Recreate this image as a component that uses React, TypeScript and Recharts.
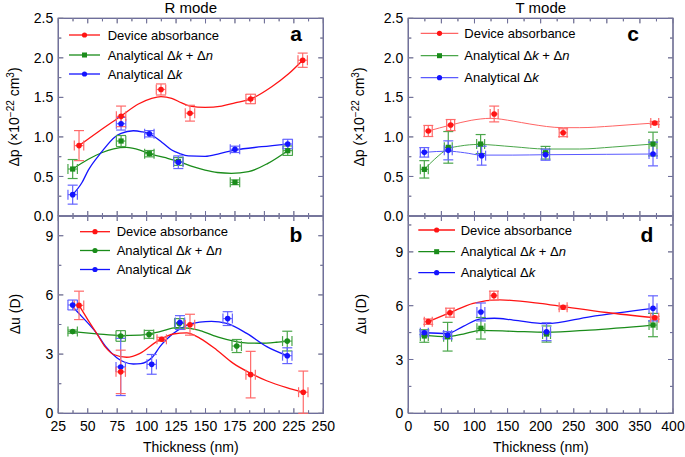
import React from 'react';
import { ComposedChart, XAxis, YAxis, Line, Scatter, ErrorBar } from 'recharts';

const FONT = '"Liberation Sans", Arial, Helvetica, sans-serif';
const RED = '#ff1414';
const GREEN = '#1a8c1a';
const BLUE = '#1414ff';
const RED_E = '#ff6a6a';
const GREEN_E = '#4aa64a';
const BLUE_E = '#6464ff';

// ---------- Panel a : R mode, Δp ----------
const aRedT = [42.6, 78.3, 112.2, 136.8, 188.3, 232.5];
const aRedV = [0.89, 1.26, 1.6, 1.3, 1.48, 1.97];
const aRedEy = [0.19, 0.13, 0.07, 0.1, 0.06, 0.09];
const aRedCt = [42.6, 59, 78.3, 93, 104.3, 112.2, 121.3, 129.8, 136.8, 149.6, 163.7, 175, 188.3, 206.2, 220.3, 232.5];
const aRedCv = [0.89, 1.066, 1.264, 1.416, 1.488, 1.51, 1.488, 1.43, 1.39, 1.374, 1.39, 1.43, 1.48, 1.635, 1.795, 1.97];

const aGreenT = [37.2, 78.3, 102.3, 126.9, 175, 219.8];
const aGreenV = [0.594, 0.948, 0.788, 0.69, 0.426, 0.826];
const aGreenEy = [0.12, 0.07, 0.04, 0.05, 0.03, 0.06];
const aGreenCt = [37.2, 50.5, 61.8, 72, 83, 95, 102.3, 115, 126.9, 140, 149.6, 160, 172, 186.5, 203, 219.8];
const aGreenCv = [0.594, 0.717, 0.8, 0.85, 0.868, 0.83, 0.79, 0.74, 0.69, 0.62, 0.58, 0.55, 0.54, 0.56, 0.666, 0.826];

const aBlueT = [37.2, 78.3, 102.3, 126.9, 175, 219.8];
const aBlueV = [0.27, 1.167, 1.04, 0.68, 0.843, 0.91];
const aBlueEy = [0.12, 0.08, 0.04, 0.08, 0.04, 0.06];
const aBlueCt = [37.2, 45, 50.5, 61.8, 73.1, 78.3, 88.7, 96, 102.3, 107, 114, 121.3, 128, 135.4, 149.6, 162, 175, 197.7, 219.8];
const aBlueCv = [0.27, 0.42, 0.58, 0.81, 1.0, 1.045, 1.078, 1.065, 1.04, 1.0, 0.92, 0.834, 0.79, 0.76, 0.755, 0.79, 0.834, 0.876, 0.91];

// ---------- Panel b : R mode, Δu ----------
const bRedT = [42.6, 78, 112.8, 136.8, 188.3, 233];
const bRedV = [5.47, 2.1, 3.75, 4.49, 1.96, 1.07];
const bRedEy = [0.72, 1.1, 0.1, 0.53, 1.18, 1.07];
const bRedCt = [42.6, 50, 57.6, 65, 72, 83, 94.4, 108.5, 122.6, 134, 145.3, 159.5, 173.6, 188.3, 201.9, 218.9, 233];
const bRedCv = [5.47, 4.75, 4.05, 3.35, 2.98, 2.84, 3.04, 3.63, 4.02, 4.08, 3.8, 3.21, 2.53, 2.03, 1.65, 1.3, 1.07];

const bGreenT = [37.2, 78, 102, 127.7, 176.5, 219.4];
const bGreenV = [4.14, 3.92, 4.0, 4.55, 3.41, 3.66];
const bGreenEy = [0.08, 0.27, 0.2, 0.25, 0.33, 0.5];
const bGreenCt = [37.2, 57.6, 78, 94.4, 111.3, 125.5, 135, 145.3, 162.3, 179.3, 196.3, 210, 219.4];
const bGreenCv = [4.14, 4.03, 3.94, 3.96, 4.14, 4.34, 4.32, 4.19, 3.83, 3.6, 3.55, 3.6, 3.66];

const bBlueT = [37.2, 78, 104.3, 128.3, 168.8, 219.4];
const bBlueV = [5.49, 2.35, 2.48, 4.6, 4.8, 2.92];
const bBlueEy = [0.25, 1.45, 0.5, 0.35, 0.35, 0.4];
const bBlueCt = [37.2, 45, 57.6, 65, 74.6, 81, 88.7, 95, 100, 105, 111.3, 117, 122.6, 134, 145, 155, 168, 185, 202, 219.4];
const bBlueCv = [5.4, 4.9, 4.05, 3.4, 2.82, 2.6, 2.5, 2.52, 2.62, 2.85, 3.38, 3.75, 4.05, 4.45, 4.62, 4.66, 4.56, 4.05, 3.38, 2.92];

// ---------- Panel c : T mode, Δp ----------
const cRedT = [30.2, 64, 129.8, 234, 372.4];
const cRedV = [1.075, 1.15, 1.29, 1.053, 1.176];
const cRedEy = [0.07, 0.07, 0.1, 0.05, 0.02];
const cRedCt = [30.2, 64, 95, 124.3, 158.5, 183.7, 234, 259, 309, 350, 372.4];
const cRedCv = [1.075, 1.15, 1.21, 1.235, 1.2, 1.163, 1.117, 1.117, 1.138, 1.163, 1.176];

const cGreenT = [24.2, 60.4, 109.3, 207.4, 369.8];
const cGreenV = [0.59, 0.868, 0.91, 0.8, 0.91];
const cGreenEy = [0.11, 0.2, 0.12, 0.08, 0.15];
const cGreenCt = [24.2, 40, 60.4, 78.5, 106, 158.5, 207.4, 259, 309, 369.8];
const cGreenCv = [0.59, 0.72, 0.85, 0.885, 0.905, 0.876, 0.847, 0.847, 0.872, 0.91];

const cBlueT = [24.2, 60.4, 110.8, 207.4, 369.8];
const cBlueV = [0.805, 0.83, 0.763, 0.775, 0.784];
const cBlueEy = [0.06, 0.12, 0.12, 0.07, 0.15];
const cBlueCt = [24.2, 60.4, 85, 110.8, 158, 207.4, 300, 369.8];
const cBlueCv = [0.805, 0.82, 0.8, 0.77, 0.77, 0.775, 0.78, 0.784];

// ---------- Panel d : T mode, Δu ----------
const dRedT = [30.2, 63, 129.4, 234, 372.4];
const dRedV = [5.11, 5.61, 6.56, 5.91, 5.33];
const dRedEy = [0.15, 0.25, 0.25, 0.1, 0.08];
const dRedCt = [30.2, 63, 98, 138.4, 198.8, 234, 299.5, 372.4];
const dRedCv = [5.11, 5.61, 6.13, 6.32, 6.13, 5.95, 5.62, 5.33];

const dGreenT = [24.2, 59.4, 109.7, 208.9, 369.8];
const dGreenV = [4.31, 4.27, 4.74, 4.42, 4.92];
const dGreenEy = [0.35, 0.8, 0.6, 0.45, 0.65];
const dGreenCt = [24.2, 59.4, 83, 109.7, 158.5, 208.9, 274, 369.8];
const dGreenCv = [4.35, 4.28, 4.42, 4.62, 4.57, 4.52, 4.64, 4.92];

const dBlueT = [24.2, 59.4, 109.7, 208.9, 369.8];
const dBlueV = [4.49, 4.36, 5.65, 4.55, 5.85];
const dBlueEy = [0.1, 0.2, 0.5, 0.5, 0.7];
const dBlueCt = [24.2, 59.4, 83, 109.7, 130, 158.5, 208.9, 274, 369.8];
const dBlueCv = [4.49, 4.45, 4.85, 5.27, 5.3, 5.2, 5.0, 5.38, 5.85];

// thickness uncertainty (nm)
const rModeEx = 4;
const tModeEx = 6;

// ticks
const rXTicks = [25, 37.5, 50, 62.5, 75, 87.5, 100, 112.5, 125, 137.5, 150, 162.5, 175, 187.5, 200, 212.5, 225, 237.5, 250];
const tXTicks = [0, 25, 50, 75, 100, 125, 150, 175, 200, 225, 250, 275, 300, 325, 350, 375, 400];
const pYTicks = [0, 0.25, 0.5, 0.75, 1, 1.25, 1.5, 1.75, 2, 2.25, 2.5];
const uYTicksB = [0, 1.5, 3, 4.5, 6, 7.5, 9];
const uYTicksD = [0, 1.5, 3, 4.5, 6, 7.5, 9, 10.5];

const legendLabels = ['Device absorbance', 'Analytical \u0394k + \u0394n', 'Analytical \u0394k'];

type Shape = 'circle' | 'square';
type Series = {
  color: string; errColor: string; lineColor: string; shape: Shape; lw: number;
  t: number[]; v: number[]; ey: number[]; ex: number; ct: number[]; cv: number[];
};

const pts = (s: Series) => s.t.map((t, i) => ({ t, v: s.v[i], ey: s.ey[i], ex: s.ex }));
const curve = (s: Series) => s.ct.map((t, i) => ({ t, v: s.cv[i] }));

const mk = (color: string, errColor: string, lineColor: string, shape: Shape, lw: number,
  t: number[], v: number[], ey: number[], ex: number, ct: number[], cv: number[]): Series =>
  ({ color, errColor, lineColor, shape, lw, t, v, ey, ex, ct, cv });

const seriesA = [
  mk(GREEN, GREEN_E, GREEN, 'square', 1.3, aGreenT, aGreenV, aGreenEy, rModeEx, aGreenCt, aGreenCv),
  mk(BLUE, BLUE_E, BLUE, 'circle', 1.3, aBlueT, aBlueV, aBlueEy, rModeEx, aBlueCt, aBlueCv),
  mk(RED, RED_E, RED, 'circle', 1.3, aRedT, aRedV, aRedEy, rModeEx, aRedCt, aRedCv),
];
const seriesB = [
  mk(GREEN, GREEN_E, GREEN, 'circle', 1.3, bGreenT, bGreenV, bGreenEy, rModeEx, bGreenCt, bGreenCv),
  mk(BLUE, BLUE_E, BLUE, 'circle', 1.3, bBlueT, bBlueV, bBlueEy, rModeEx, bBlueCt, bBlueCv),
  mk(RED, RED_E, RED, 'circle', 1.3, bRedT, bRedV, bRedEy, rModeEx, bRedCt, bRedCv),
];
const seriesC = [
  mk(GREEN, GREEN_E, '#4aa64a', 'square', 1, cGreenT, cGreenV, cGreenEy, tModeEx, cGreenCt, cGreenCv),
  mk(BLUE, BLUE_E, '#5a5aff', 'circle', 1, cBlueT, cBlueV, cBlueEy, tModeEx, cBlueCt, cBlueCv),
  mk(RED, RED_E, '#ff6464', 'circle', 1, cRedT, cRedV, cRedEy, tModeEx, cRedCt, cRedCv),
];
const seriesD = [
  mk(GREEN, GREEN_E, GREEN, 'square', 1.3, dGreenT, dGreenV, dGreenEy, tModeEx, dGreenCt, dGreenCv),
  mk(BLUE, BLUE_E, BLUE, 'circle', 1.3, dBlueT, dBlueV, dBlueEy, tModeEx, dBlueCt, dBlueCv),
  mk(RED, RED_E, RED, 'circle', 1.3, dRedT, dRedV, dRedEy, tModeEx, dRedCt, dRedCv),
];

const LEFT_M = 5;
const BOTTOM_M = 8;

const leftLabel = (fmt: (v: number) => string) => (props: any) => {
  const label = fmt(props.payload.value);
  return label === '' ? <g /> : (
    <text x={props.x} y={props.y} dy="0.36em" textAnchor="end" fontSize={14} fontFamily={FONT} fill="#000">{label}</text>
  );
};
const bottomLabel = (fmt: (v: number) => string) => (props: any) => {
  const label = fmt(props.payload.value);
  return label === '' ? <g /> : (
    <text x={props.x} y={props.y} dy="0.72em" textAnchor="middle" fontSize={14} fontFamily={FONT} fill="#000">{label}</text>
  );
};

const fmtP = (v: number) => (Math.abs(v * 2 - Math.round(v * 2)) < 1e-6 ? v.toFixed(1) : '');
const fmtU = (v: number) => (Math.abs(v % 3) < 1e-6 ? String(v) : '');
const fmtRX = (v: number) => (Math.abs((v - 25) % 25) < 1e-6 ? String(v) : '');
const fmtTX = (v: number) => (Math.abs(v % 50) < 1e-6 ? String(v) : '');

type PanelCfg = {
  left: number; top: number; w: number; h: number; xHeight: number;
  px0: number; px1: number; py0: number; py1: number;
  xDomain: [number, number]; xTicks: number[]; xFmt: (v: number) => string; showX: boolean;
  yDomain: [number, number]; yTicks: number[]; yFmt: (v: number) => string; series: Series[];
};

const PANELS: PanelCfg[] = [
  { left: 0, top: 0, w: 340, h: 230, xHeight: 0, px0: 58.3, px1: 323.3, py0: 18.3, py1: 216,
    xDomain: [25, 250], xTicks: rXTicks, xFmt: fmtRX, showX: false, yDomain: [0, 2.5], yTicks: pYTicks, yFmt: fmtP, series: seriesA },
  { left: 0, top: 200, w: 340, h: 257, xHeight: 30, px0: 58.3, px1: 323.3, py0: 216, py1: 413.3,
    xDomain: [25, 250], xTicks: rXTicks, xFmt: fmtRX, showX: true, yDomain: [0, 10], yTicks: uYTicksB, yFmt: fmtU, series: seriesB },
  { left: 345, top: 0, w: 340, h: 230, xHeight: 0, px0: 408.3, px1: 673, py0: 18.3, py1: 216,
    xDomain: [0, 400], xTicks: tXTicks, xFmt: fmtTX, showX: false, yDomain: [0, 2.5], yTicks: pYTicks, yFmt: fmtP, series: seriesC },
  { left: 345, top: 200, w: 340, h: 257, xHeight: 30, px0: 408.3, px1: 673, py0: 216, py1: 413.3,
    xDomain: [0, 400], xTicks: tXTicks, xFmt: fmtTX, showX: true, yDomain: [0, 11], yTicks: uYTicksD, yFmt: fmtU, series: seriesD },
];

const FRAME_INKS = ['#9a9a9a', '#6e6e9c'];

type TickDir = 'up' | 'down' | 'right' | 'left';
const tickShape = (dir: TickDir, ink: string) => (q: any) => {
  const len = q.payload && q.payload.major ? 5 : 3;
  const cx = q.cx, cy = q.cy;
  const d = dir === 'up' ? `M${cx},${cy}V${cy - len}`
    : dir === 'down' ? `M${cx},${cy}V${cy + len}`
    : dir === 'right' ? `M${cx},${cy}H${cx + len}`
    : `M${cx},${cy}H${cx - len}`;
  return <path d={d} stroke={ink} strokeWidth={1} fill="none" />;
};

function Panel({ p }: { p: PanelCfg }) {
  const margin = {
    top: p.py0 - p.top,
    right: p.left + p.w - p.px1,
    bottom: p.top + p.h - p.py1 - p.xHeight,
    left: 0,
  };
  const [x0, x1] = p.xDomain;
  const [y0, y1] = p.yDomain;
  const frame = [{ t: x0, v: y0 }, { t: x1, v: y0 }, { t: x1, v: y1 }, { t: x0, v: y1 }, { t: x0, v: y0 }];
  const botTicks = p.xTicks.map((t) => ({ t, v: y0, major: p.xFmt(t) !== '' }));
  const topTicks = p.xTicks.map((t) => ({ t, v: y1, major: p.xFmt(t) !== '' }));
  const leftTicks = p.yTicks.map((v) => ({ t: x0, v, major: p.yFmt(v) !== '' }));
  const rightTicks = p.yTicks.map((v) => ({ t: x1, v, major: p.yFmt(v) !== '' }));
  return (
    <div style={{ position: 'absolute', left: p.left, top: p.top }}>
      <ComposedChart width={p.w} height={p.h} margin={margin}>
        <XAxis xAxisId="b" type="number" dataKey="t" domain={p.xDomain} ticks={p.xTicks} interval={0}
          height={p.xHeight} tickSize={0} tickMargin={BOTTOM_M} axisLine={false} tickLine={false}
          tick={p.showX ? bottomLabel(p.xFmt) : false} />
        <YAxis yAxisId="l" type="number" dataKey="v" domain={p.yDomain} ticks={p.yTicks} interval={0}
          width={p.px0 - p.left} tickSize={0} tickMargin={LEFT_M} axisLine={false} tickLine={false}
          tick={leftLabel(p.yFmt)} />
        {p.series.map((s, i) => (
          <Line key={'l' + i} xAxisId="b" yAxisId="l" data={curve(s)} dataKey="v" type="monotone"
            stroke={s.lineColor} strokeWidth={s.lw} dot={false} activeDot={false} isAnimationActive={false} />
        ))}
        {FRAME_INKS.map((ink, k) => (
          <Line key={'f' + k} xAxisId="b" yAxisId="l" data={frame} dataKey="v" type="linear" stroke={ink} strokeWidth={1.3}
            dot={false} activeDot={false} isAnimationActive={false} />
        ))}
        {FRAME_INKS.map((ink, k) => [
          <Scatter key={'tb' + k} xAxisId="b" yAxisId="l" data={botTicks} dataKey="v" shape={tickShape('up', ink)} isAnimationActive={false} />,
          <Scatter key={'tt' + k} xAxisId="b" yAxisId="l" data={topTicks} dataKey="v" shape={tickShape('down', ink)} isAnimationActive={false} />,
          <Scatter key={'tl' + k} xAxisId="b" yAxisId="l" data={leftTicks} dataKey="v" shape={tickShape('right', ink)} isAnimationActive={false} />,
          <Scatter key={'tr' + k} xAxisId="b" yAxisId="l" data={rightTicks} dataKey="v" shape={tickShape('left', ink)} isAnimationActive={false} />,
        ])}
        {p.series.map((s, i) => (
          <Scatter key={'s' + i} xAxisId="b" yAxisId="l" data={pts(s)} dataKey="v" isAnimationActive={false}
            shape={(q: any) => s.shape === 'square'
              ? <rect x={q.cx - 2.6} y={q.cy - 2.6} width={5.2} height={5.2} fill={s.color} />
              : <circle cx={q.cx} cy={q.cy} r={2.8} fill={s.color} />}>
            <ErrorBar dataKey="ex" direction="x" width={5} stroke={s.errColor} strokeWidth={1.2} isAnimationActive={false} />
            <ErrorBar dataKey="ey" direction="y" width={5} stroke={s.errColor} strokeWidth={1.2} isAnimationActive={false} />
          </Scatter>
        ))}
      </ComposedChart>
    </div>
  );
}

const legendColors = [RED, GREEN, BLUE];

function LabelText({ i }: { i: number }) {
  if (i === 0) return <>{legendLabels[0]}</>;
  if (i === 1) return <>Analytical Δ<tspan fontStyle="italic">k</tspan> + Δ<tspan fontStyle="italic">n</tspan></>;
  return <>Analytical Δ<tspan fontStyle="italic">k</tspan></>;
}

function LegendBlock({ x1, x2, tx, ys, shapes, lineColors }: { x1: number; x2: number; tx: number; ys: number[]; shapes: Shape[]; lineColors: string[] }) {
  const cx = (x1 + x2) / 2;
  return (
    <g>
      {ys.map((y, i) => (
        <g key={i}>
          <line x1={x1} x2={x2} y1={y} y2={y} stroke={lineColors[i]} strokeWidth={1.3} />
          {shapes[i] === 'square'
            ? <rect x={cx - 2.5} y={y - 2.5} width={5} height={5} fill={legendColors[i]} />
            : <circle cx={cx} cy={y} r={2.6} fill={legendColors[i]} />}
          <text x={tx} y={y + 4.6} fontSize={13} fontFamily={FONT} fill="#000"><LabelText i={i} /></text>
        </g>
      ))}
    </g>
  );
}

function DpTitle({ x, y }: { x: number; y: number }) {
  return (
    <text transform={`translate(${x},${y}) rotate(-90)`} textAnchor="middle" fontSize={14} fontFamily={FONT} fill="#000">
      Δp (×10<tspan dy={-5} fontSize={10}>−22</tspan><tspan dy={5}> cm</tspan><tspan dy={-5} fontSize={10}>3</tspan><tspan dy={5}>)</tspan>
    </text>
  );
}

function DuTitle({ x, y }: { x: number; y: number }) {
  return (
    <text transform={`translate(${x},${y}) rotate(-90)`} textAnchor="middle" fontSize={14} fontFamily={FONT} fill="#000">
      Δu (D)
    </text>
  );
}

export default function App() {
  return (
    <div style={{ position: 'absolute', left: 0, top: 0, width: 685, height: 457, background: '#fff', overflow: 'hidden' }}>
      {PANELS.map((p, i) => <Panel key={i} p={p} />)}
      <svg width={685} height={457} style={{ position: 'absolute', left: 0, top: 0, pointerEvents: 'none' }}>
        <text x={190.8} y={13} textAnchor="middle" fontSize={15} fontFamily={FONT} fill="#000">R mode</text>
        <text x={540.8} y={13} textAnchor="middle" fontSize={15} fontFamily={FONT} fill="#000">T mode</text>
        <text x={190.8} y={452} textAnchor="middle" fontSize={14} fontFamily={FONT} fill="#000">Thickness (nm)</text>
        <text x={540.8} y={452} textAnchor="middle" fontSize={14} fontFamily={FONT} fill="#000">Thickness (nm)</text>
        <DpTitle x={19} y={117} />
        <DpTitle x={364} y={117} />
        <DuTitle x={20} y={314} />
        <DuTitle x={366} y={314} />
        <text x={296} y={41} textAnchor="middle" fontSize={21} fontWeight="bold" fontFamily={FONT} fill="#000">a</text>
        <text x={296} y={242} textAnchor="middle" fontSize={21} fontWeight="bold" fontFamily={FONT} fill="#000">b</text>
        <text x={633} y={41} textAnchor="middle" fontSize={21} fontWeight="bold" fontFamily={FONT} fill="#000">c</text>
        <text x={647} y={242} textAnchor="middle" fontSize={21} fontWeight="bold" fontFamily={FONT} fill="#000">d</text>
        <LegendBlock x1={69} x2={100} tx={107.7} ys={[35, 55, 74]} shapes={['circle', 'square', 'circle']} lineColors={[RED, GREEN, BLUE]} />
        <LegendBlock x1={80} x2={110} tx={116.7} ys={[231.7, 250.5, 269.5]} shapes={['circle', 'circle', 'circle']} lineColors={[RED, GREEN, BLUE]} />
        <LegendBlock x1={420.7} x2={458.3} tx={464.3} ys={[33.3, 55.7, 77.7]} shapes={['circle', 'square', 'circle']} lineColors={['#ff6464', '#4aa64a', '#5a5aff']} />
        <LegendBlock x1={418.3} x2={455} tx={460.7} ys={[230, 251.7, 272.7]} shapes={['circle', 'square', 'circle']} lineColors={[RED, GREEN, BLUE]} />
      </svg>
    </div>
  );
}
